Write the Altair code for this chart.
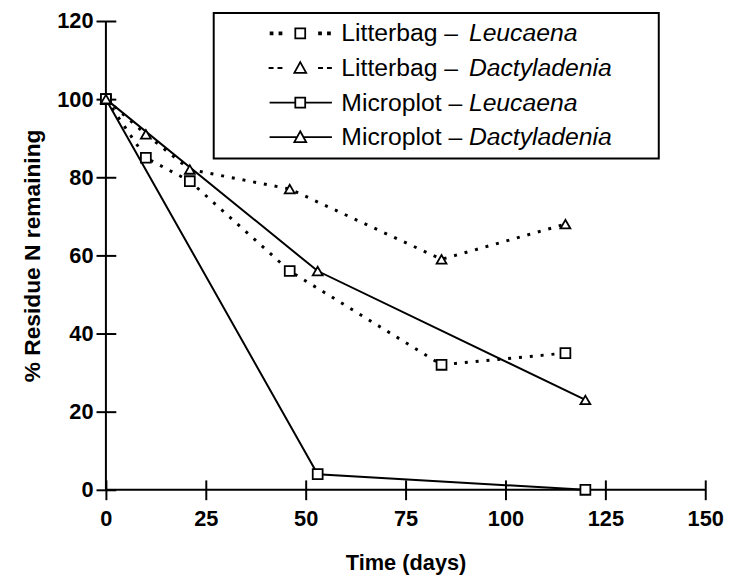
import altair as alt
import pandas as pd

# ---- data ----
lb_days = [0, 10, 21, 46, 84, 115]
lb_leucaena = [100, 85, 79, 56, 32, 35]
lb_dactyladenia = [100, 91, 82, 77, 59, 68]
mp_days = [0, 53, 120]
mp_leucaena = [100, 4, 0]
mp_dactyladenia = [100, 56, 23]

series_keys = ["LB_L", "LB_D", "MP_L", "MP_D"]
species_keys = ["sp1", "sp2", "sp3", "sp4"]
prefix_labels = ["Litterbag \u2013", "Litterbag \u2013", "Microplot \u2013", "Microplot \u2013"]
species_labels = ["Leucaena", "Dactyladenia", "Leucaena", "Dactyladenia"]
x_ticks = [0, 25, 50, 75, 100, 125, 150]
y_ticks = [0, 20, 40, 60, 80, 100, 120]

rows = []
for key, key2, days, vals in [("LB_L", "sp1", lb_days, lb_leucaena), ("LB_D", "sp2", lb_days, lb_dactyladenia),
                              ("MP_L", "sp3", mp_days, mp_leucaena), ("MP_D", "sp4", mp_days, mp_dactyladenia)]:
    for d, v in zip(days, vals):
        rows.append({"day": d, "pct": v, "series": key, "species": key2})
df = pd.DataFrame(rows)

FONT = "Liberation Sans"
ZW = "\u200b"       # zero-width char so that padding spaces are not trimmed
NB = "\u00a0"

# legend key glyphs (unit = 10 px)
def sq(cx, h):
    return f"M{cx-h},{-h}H{cx+h}V{h}H{cx-h}Z"

def dot(cx):
    return f"M{cx-0.1},-0.1h0.2v0.2h-0.2Z"

key_paths = [
    " ".join([dot(-5.1), dot(-4.2), sq(-2.2, 0.5), dot(-0.2), dot(0.7)]),
    "M-5.4,0H-4.9M-4.5,0H-4.0 M-2.2,-0.6L-1.6,0.5L-2.8,0.5Z M-0.4,0H0.1M0.5,0H1.0",
    "M-5.3,0H-2.7 " + sq(-2.2, 0.5) + " M-1.7,0H1.0",
    "M-5.3,0H-2.55 M-2.2,-0.6L-1.6,0.5L-2.8,0.5Z M-1.85,0H1.0",
]

pad = NB * 27 + ZW
lab1 = "datum.value == 'LB_L' ? '" + prefix_labels[0] + NB + pad + "' : datum.value == 'LB_D' ? '" + prefix_labels[1] + \
       "' : datum.value == 'MP_L' ? '" + prefix_labels[2] + "' : '" + prefix_labels[3] + "'"
lab2 = "datum.value == 'sp1' ? '" + species_labels[0] + "' : datum.value == 'sp2' ? '" + species_labels[1] + \
       "' : datum.value == 'sp3' ? '" + species_labels[2] + "' : '" + species_labels[3] + "'"

x_axis = alt.Axis(values=x_ticks, title="Time (days)", titleFont=FONT, titleFontSize=22,
                  titleFontWeight="bold", titleColor="black", titlePadding=24,
                  labelFont=FONT, labelFontSize=22, labelFontWeight="bold", labelColor="black",
                  labelPadding=9, labelFlush=False, tickSize=20, tickWidth=2, tickColor="black",
                  offset=-10, domain=False, grid=False)
y_axis = alt.Axis(values=y_ticks, title="% Residue N remaining", titleFont=FONT, titleFontSize=23,
                  titleFontWeight="bold", titleColor="black", titlePadding=12,
                  labelFont=FONT, labelFontSize=22, labelFontWeight="bold", labelColor="black",
                  labelPadding=3, tickSize=20, tickWidth=2, tickColor="black",
                  offset=-10, domain=False, grid=False)

X = alt.X("day:Q", scale=alt.Scale(domain=[0, 150], nice=False, zero=False), axis=x_axis)
Y = alt.Y("pct:Q", scale=alt.Scale(domain=[0, 120], nice=False), axis=y_axis)

base = alt.Chart(df)
zero = alt.Chart(pd.DataFrame({"v": [0]}))

x_domain = zero.mark_rule(color="black", strokeWidth=2).encode(x=alt.datum(0))
y_domain = zero.mark_rule(color="black", strokeWidth=2).encode(y=alt.datum(0))

lb_lines = base.transform_filter("datum.series == 'LB_L' || datum.series == 'LB_D'").mark_line(
    color="black", strokeWidth=3, strokeDash=[3, 8]).encode(x=X, y=Y, detail="series:N")
mp_lines = base.transform_filter("datum.series == 'MP_L' || datum.series == 'MP_D'").mark_line(
    color="black", strokeWidth=2).encode(x=X, y=Y, detail="series:N")

points = base.mark_point(filled=True, fill="white", stroke="black", strokeWidth=1.8,
                         size=100, opacity=1).encode(
    x=X, y=Y,
    shape=alt.Shape("series:N", scale=alt.Scale(domain=series_keys,
                    range=["square", "triangle-up", "square", "triangle-up"]), legend=None))

legend1 = alt.Legend(orient="none", legendX=109, legendY=-8, title=ZW + NB * 12 + ZW,
                     titleOrient="left", titleFont=FONT, titleFontSize=24,
                     titleFontWeight="normal", titlePadding=8, padding=8,
                     strokeColor="black",
                     labelFont=FONT, labelFontSize=25, labelColor="black", labelLimit=700,
                     labelOffset=7, rowPadding=9, symbolSize=400, symbolStrokeColor="black",
                     symbolFillColor="white", symbolStrokeWidth=1.8, symbolOpacity=1,
                     labelExpr=lab1)
legend2 = alt.Legend(orient="none", legendX=342, legendY=0, title=None, padding=0,
                     labelFont=FONT, labelFontSize=25, labelFontStyle="italic",
                     labelColor="black", labelLimit=400, labelOffset=0, rowPadding=9,
                     symbolSize=0, symbolOpacity=0, symbolStrokeWidth=0, labelExpr=lab2)

legend_layer = base.transform_filter("false").mark_point(filled=False, opacity=1).encode(
    x=X, y=Y,
    shape=alt.Shape("series:N", scale=alt.Scale(domain=series_keys, range=key_paths), legend=legend1),
    color=alt.Color("species:N", scale=alt.Scale(domain=species_keys, range=["black"] * 4), legend=legend2))

chart = alt.layer(x_domain, y_domain, lb_lines, mp_lines, points, legend_layer).resolve_scale(
    shape="independent", color="independent"
).properties(
    width=606, height=474,
    autosize=alt.AutoSizeParams(type="none"),
    padding={"left": 99, "top": 10, "right": 23, "bottom": 84},
    background="white",
).configure_view(stroke=None).configure_legend(strokeWidth=2)

chart.save("out.html", embed_options={"renderer": "svg", "actions": False})
